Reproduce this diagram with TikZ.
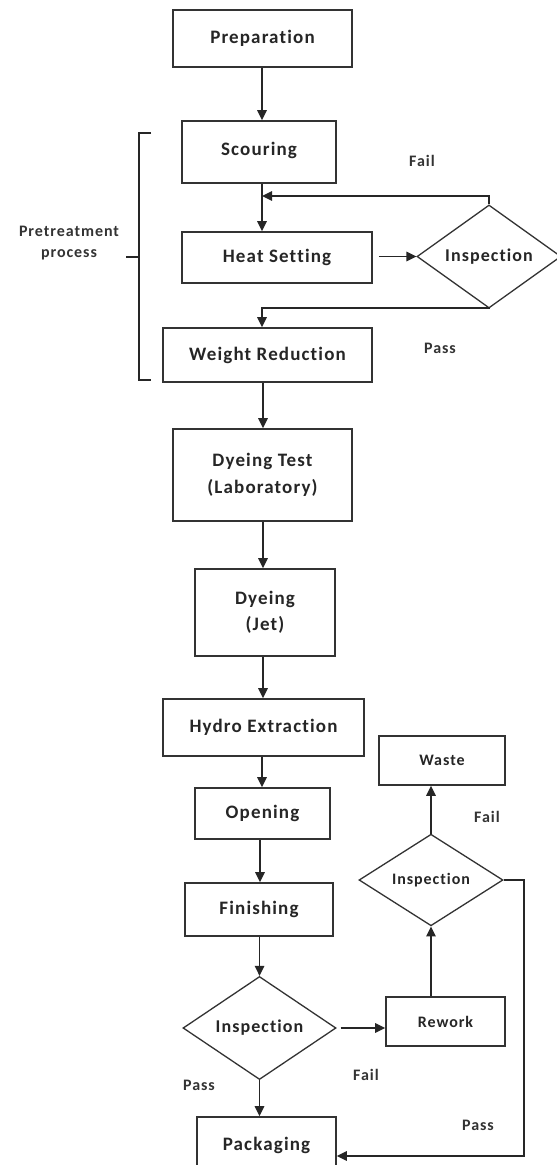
\documentclass[tikz,border=0pt]{standalone}
\usepackage{fontspec}
\setmainfont{Carlito}
\newfontfamily\lsfont[LetterSpace=6,Ligatures={NoCommon,NoRare,NoContextual}]{Carlito}
\usetikzlibrary{arrows.meta,shapes.geometric}
\begin{document}
\begin{tikzpicture}[x=1pt,y=-1pt,
  line width=1.5pt, draw=black!85,
  box/.style={draw=black!80, line width=1.6pt, rectangle, inner sep=0pt, align=center, font=\lsfont\bfseries\fontsize{19}{27}\selectfont, text=black!85},
  dia/.style={draw=black!80, line width=1.3pt, diamond, inner sep=0pt, text=black!85},
  lbl/.style={font=\lsfont\bfseries\fontsize{16}{18}\selectfont, text=black!80},
  arr/.style={-{Triangle[length=10pt,width=9.5pt]}, line width=1.5pt, draw=black!85}]
\useasboundingbox (0,0) rectangle (557,1165);
\clip (0,0) rectangle (557,1165);
\fill[white] (0,0) rectangle (557,1165);
% spine coordinate for vertical arrows
\coordinate (sp) at (262,0);
% boxes
\node[box, minimum width=179pt, minimum height=57pt] (prep) at (262.5,38.5) {Preparation};
\node[box, minimum width=154pt, minimum height=62pt] (scour) at (259,152) {\raisebox{7pt}{Scouring}};
\node[box, minimum width=190pt, minimum height=51pt] (heat) at (277,257.5) {Heat Setting};
\node[box, minimum width=209pt, minimum height=54pt] (wr) at (267.5,355) {Weight Reduction};
\node[box, minimum width=179pt, minimum height=92pt] (dtest) at (262.5,475) {Dyeing Test\\(Laboratory)};
\node[box, minimum width=140pt, minimum height=87pt, font=\lsfont\bfseries\fontsize{19}{26}\selectfont] (djet) at (265,612.5) {Dyeing\\(Jet)};
\node[box, minimum width=201pt, minimum height=57pt] (hydro) at (263.5,727.5) {Hydro Extraction};
\node[box, minimum width=126pt, minimum height=49pt, font=\lsfont\bfseries\fontsize{16}{20}\selectfont] (waste) at (442,760.5) {Waste};
\node[box, minimum width=135pt, minimum height=51pt] (open) at (262.5,813.5) {Opening};
\node[box, minimum width=148pt, minimum height=53pt] (fin) at (259,909.5) {Finishing};
\node[box, minimum width=119pt, minimum height=49pt, font=\lsfont\bfseries\fontsize{16}{20}\selectfont] (rework) at (445.5,1021.5) {Rework};
\node[box, minimum width=139pt, minimum height=56pt] (pack) at (266.5,1145) {Packaging};
% diamonds
\node[dia, minimum width=144pt, minimum height=97pt, font=\lsfont\bfseries\fontsize{18}{22}\selectfont] (insp1) at (489,256.5) {Inspection};
\node[dia, minimum width=153pt, minimum height=100pt, font=\lsfont\bfseries\fontsize{18}{22}\selectfont] (insp2) at (259.5,1028) {Inspection};
\node[dia, minimum width=144pt, minimum height=84pt, font=\lsfont\bfseries\fontsize{16}{18}\selectfont] (insp3) at (431,880) {Inspection};
% bracket
\coordinate (bt) at (151,133);
\coordinate (bb) at (151,380);
\coordinate (bm) at (126,257);
\draw[line width=1.3pt] (bt) -- (bt -| 139,0) -- (bb -| 139,0) -- (bb);
\draw[line width=1.3pt] (bm) -- (bm -| 139,0);
\node[font=\lsfont\bfseries\fontsize{16}{21}\selectfont, text=black!80, align=center] (pre) at (69,243) {Pretreatment\\process};
% main arrows
\draw[arr] (prep.south -| sp) -- (scour.north -| sp);
\draw[arr] (scour.south -| sp) -- (heat.north -| sp);
\draw[arr] (heat.east |- insp1.west) ++(6,0) coordinate (h1) -- (insp1.west);
\coordinate (f1) at (262,196);
\draw[arr] (insp1.north) -- (insp1.north |- f1) -- (f1);
\coordinate (p1) at (262,308);
\draw[arr] (insp1.south) -- (insp1.south |- p1) -- (p1) -- (wr.north -| p1);
\draw[arr] (wr.south -| 263,0) -- (dtest.north -| 263,0);
\draw[arr] (dtest.south -| 263,0) -- (djet.north -| 263,0);
\draw[arr] (djet.south -| 263,0) -- (hydro.north -| 263,0);
\draw[arr] (hydro.south -| sp) -- (open.north -| sp);
\draw[arr] (open.south -| 260,0) -- (fin.north -| 260,0);
\draw[arr] (fin.south -| insp2.north) -- (insp2.north);
\draw[arr] (insp2.south) -- (pack.north -| insp2.south);
\draw[arr] (insp2.east) ++(4,0) -- (rework.west |- insp2.east);
\draw[arr] (rework.north -| insp3.south) -- (insp3.south);
\draw[arr] (insp3.north) -- (waste.south -| insp3.north);
\coordinate (q1) at (524,880);
\coordinate (q2) at (524,1156);
\draw[arr] (insp3.east) -- (q1) -- (q2) -- (pack.east |- q2);
% labels
\node[lbl] (l1) at (422,161) {Fail};
\node[lbl] (l2) at (440,348) {Pass};
\node[lbl] (l3) at (487,817) {Fail};
\node[lbl] (l4) at (199,1085) {Pass};
\node[lbl] (l5) at (366,1075) {Fail};
\node[lbl] (l6) at (478,1125) {Pass};
\end{tikzpicture}
\end{document}
